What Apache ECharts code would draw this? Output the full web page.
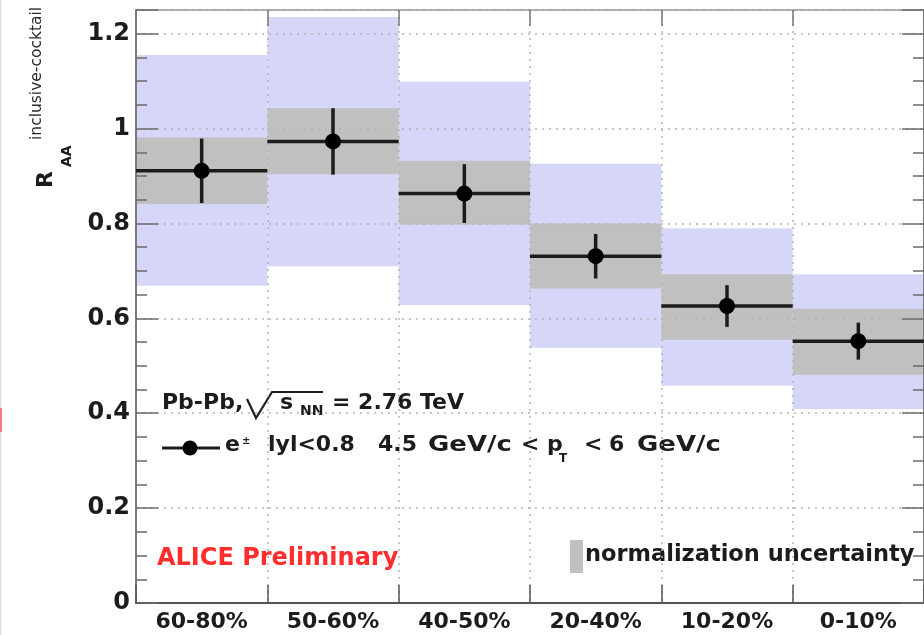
<!DOCTYPE html>
<html>
<head>
<meta charset="utf-8">
<script src="https://cdn.jsdelivr.net/npm/echarts@6/dist/echarts.min.js"></script>
<style>
  html, body { margin: 0; padding: 0; background: #ffffff; }
  #chart { width: 924px; height: 635px; }
</style>
</head>
<body>
<div id="chart"></div>
<script>
// Centrality classes
const categories = ['60-80%', '50-60%', '40-50%', '20-40%', '10-20%', '0-10%'];
// R_AA of inclusive-minus-cocktail electrons
const raa = [0.911, 0.973, 0.863, 0.731, 0.626, 0.552];
// statistical errors (vertical bars)
const statErr = [0.068, 0.070, 0.062, 0.047, 0.044, 0.039];
// systematic uncertainty boxes (grey)
const systLow = [0.841, 0.904, 0.798, 0.663, 0.555, 0.481];
const systHigh = [0.981, 1.043, 0.932, 0.800, 0.693, 0.620];
// cocktail uncertainty boxes (blue)
const cocktailLow = [0.669, 0.710, 0.628, 0.538, 0.458, 0.409];
const cocktailHigh = [1.155, 1.235, 1.099, 0.926, 0.790, 0.693];

const FONT = '"DejaVu Sans"';
const INK = '#1c1c1c';

const chart = echarts.init(document.getElementById('chart'), null, { renderer: 'canvas' });

function boxRenderer(color) {
  return function (params, api) {
    const x = api.value(0);
    const top = api.coord([x, api.value(2)]);
    const bot = api.coord([x, api.value(1)]);
    const w = api.size([1, 0])[0];
    return {
      type: 'rect',
      shape: { x: top[0] - w / 2, y: top[1], width: w, height: bot[1] - top[1] },
      style: { fill: color }
    };
  };
}

function pointRenderer(params, api) {
  const x = api.value(0);
  const v = api.value(1);
  const e = api.value(2);
  const c = api.coord([x, v]);
  const hi = api.coord([x, v + e]);
  const lo = api.coord([x, v - e]);
  const w = api.size([1, 0])[0];
  const lineStyle = { stroke: INK, lineWidth: 3.5 };
  return {
    type: 'group',
    children: [
      { type: 'line', shape: { x1: c[0] - w / 2, y1: c[1], x2: c[0] + w / 2, y2: c[1] }, style: lineStyle },
      { type: 'line', shape: { x1: c[0], y1: hi[1], x2: c[0], y2: lo[1] }, style: lineStyle },
      { type: 'circle', shape: { cx: c[0], cy: c[1], r: 8 }, style: { fill: '#000' } }
    ]
  };
}

const dotted = { color: '#b4b4b4', width: 1.5, type: [2, 5] };

const yAxisBase = {
  type: 'value',
  min: 0,
  max: 1.25,
  interval: 0.2,
  z: 3,
  axisLine: { show: true, onZero: false, lineStyle: { color: '#7a7a7a', width: 2 } },
  axisTick: { show: true, inside: true, length: 22, lineStyle: { color: '#6a6a6a', width: 1.5 } },
  minorTick: { show: true, splitNumber: 4, length: 11, lineStyle: { color: '#6a6a6a', width: 1.5 } }
};

const option = {
  animation: false,
  backgroundColor: '#ffffff',
  grid: { left: 136, right: -1, top: 10, bottom: 32 },
  xAxis: [
    {
      type: 'category',
      data: categories,
      position: 'bottom',
      z: 3,
      axisLine: { show: true, onZero: false, lineStyle: { color: '#555', width: 2 } },
      axisTick: { show: true, inside: true, length: 18, lineStyle: { color: '#555', width: 1.5 } },
      splitLine: { show: true, lineStyle: dotted },
      axisLabel: {
        margin: 8,
        fontFamily: FONT, fontWeight: 'bold', fontSize: 22, color: INK
      }
    },
    {
      type: 'category',
      data: categories,
      position: 'top',
      z: 3,
      axisLine: { show: true, onZero: false, lineStyle: { color: '#9a9a9a', width: 1.5 } },
      axisTick: { show: true, inside: true, length: 16, lineStyle: { color: '#777', width: 1.5 } },
      axisLabel: { show: false },
      splitLine: { show: false }
    }
  ],
  yAxis: [
    Object.assign({}, yAxisBase, {
      position: 'left',
      splitLine: { show: true, lineStyle: dotted },
      axisLabel: {
        margin: 6, showMaxLabel: false,
        fontFamily: FONT, fontWeight: 'bold', fontSize: 24, color: INK,
        formatter: function (v) { return String(Math.round(v * 10) / 10); }
      }
    }),
    Object.assign({}, yAxisBase, {
      position: 'right',
      splitLine: { show: false },
      axisLabel: { show: false }
    })
  ],
  series: [
    {
      type: 'custom',
      name: 'cocktail',
      z: 1,
      renderItem: boxRenderer('#d6d6f9'),
      data: categories.map((c, i) => [i, cocktailLow[i], cocktailHigh[i]])
    },
    {
      type: 'custom',
      name: 'syst',
      z: 1,
      renderItem: boxRenderer('#c0c0c0'),
      data: categories.map((c, i) => [i, systLow[i], systHigh[i]])
    },
    {
      type: 'custom',
      name: 'RAA',
      z: 5,
      renderItem: pointRenderer,
      data: categories.map((c, i) => [i, raa[i], statErr[i]])
    }
  ],
  graphic: {
    elements: [
      // faint edge marks at the left border
      { type: 'rect', shape: { x: 0, y: 0, width: 1.5, height: 635 }, style: { fill: '#e4e4e4' } },
      { type: 'rect', shape: { x: 0, y: 408, width: 2, height: 24 }, style: { fill: '#ff7a7a' } },

      // y-axis title: R_AA^{inclusive-cocktail}, rotated
      {
        type: 'group', x: 55, y: 190, rotation: Math.PI / 2,
        children: [
          { type: 'text', x: 2, y: -8.5, style: { text: 'R', font: 'bold 22px ' + FONT, fill: INK, align: 'left', verticalAlign: 'middle' } },
          { type: 'text', x: 23, y: 12.5, style: { text: 'AA', font: 'bold 14px ' + FONT, fill: INK, align: 'left', verticalAlign: 'middle' } },
          { type: 'text', x: 50, y: -18.5, style: { text: 'inclusive-cocktail', font: '15.5px ' + FONT, fill: '#2a2a2a', align: 'left', verticalAlign: 'middle' } }
        ]
      },

      // Pb-Pb, sqrt(s_NN) = 2.76 TeV
      { type: 'text', x: 162, y: 403.5, style: { text: 'Pb-Pb,', font: 'bold 22px ' + FONT, fill: INK, verticalAlign: 'middle' } },
      { type: 'polyline', shape: { points: [[247, 399], [256, 418], [272, 392], [323, 392]] }, style: { stroke: INK, lineWidth: 2.2, fill: null } },
      { type: 'text', x: 280, y: 403.5, style: { text: 's', font: 'bold 22px ' + FONT, fill: INK, verticalAlign: 'middle' } },
      { type: 'text', x: 300, y: 411, style: { text: 'NN', font: 'bold 14px ' + FONT, fill: INK, verticalAlign: 'middle' } },
      { type: 'text', x: 332, y: 403.5, style: { text: '= 2.76 TeV', font: 'bold 22px ' + FONT, fill: INK, verticalAlign: 'middle' } },

      // legend entry for the data points
      { type: 'line', shape: { x1: 162, y1: 448, x2: 220, y2: 448 }, style: { stroke: INK, lineWidth: 3 } },
      { type: 'circle', shape: { cx: 190, cy: 448, r: 7.5 }, style: { fill: '#000' } },
      { type: 'text', x: 225, y: 445, style: { text: 'e', font: 'bold 22px ' + FONT, fill: INK, verticalAlign: 'middle' } },
      { type: 'text', x: 242, y: 441, style: { text: '±', font: 'bold 10px ' + FONT, fill: INK, verticalAlign: 'middle' } },
      { type: 'text', x: 268, y: 445, style: { text: 'lyl<0.8', font: 'bold 22px ' + FONT, fill: INK, verticalAlign: 'middle' } },
      { type: 'text', x: 378, y: 445, style: { text: '4.5', font: 'bold 22px ' + FONT, fill: INK, verticalAlign: 'middle' } },
      { type: 'text', x: 428, y: 445, scaleX: 1.18, style: { text: 'GeV/c', font: 'bold 22px ' + FONT, fill: INK, verticalAlign: 'middle' } },
      { type: 'text', x: 521, y: 445, style: { text: '<', font: 'bold 22px ' + FONT, fill: INK, verticalAlign: 'middle' } },
      { type: 'text', x: 547, y: 445, style: { text: 'p', font: 'bold 22px ' + FONT, fill: INK, verticalAlign: 'middle' } },
      { type: 'text', x: 559, y: 459, style: { text: 'T', font: 'bold 12px ' + FONT, fill: INK, verticalAlign: 'middle' } },
      { type: 'text', x: 584, y: 445, style: { text: '<', font: 'bold 22px ' + FONT, fill: INK, verticalAlign: 'middle' } },
      { type: 'text', x: 609, y: 445, style: { text: '6', font: 'bold 22px ' + FONT, fill: INK, verticalAlign: 'middle' } },
      { type: 'text', x: 637, y: 445, scaleX: 1.18, style: { text: 'GeV/c', font: 'bold 22px ' + FONT, fill: INK, verticalAlign: 'middle' } },

      // experiment label
      { type: 'text', x: 157, y: 558.5, style: { text: 'ALICE Preliminary', font: 'bold 24px ' + FONT, fill: '#ff2e2e', verticalAlign: 'middle' } },

      // normalization uncertainty legend
      { type: 'rect', shape: { x: 570, y: 540, width: 13, height: 33 }, style: { fill: '#c0c0c0' } },
      { type: 'text', x: 585, y: 555, style: { text: 'normalization uncertainty', font: 'bold 22.5px ' + FONT, fill: INK, verticalAlign: 'middle' } }
    ]
  }
};

chart.setOption(option);
</script>
</body>
</html>
